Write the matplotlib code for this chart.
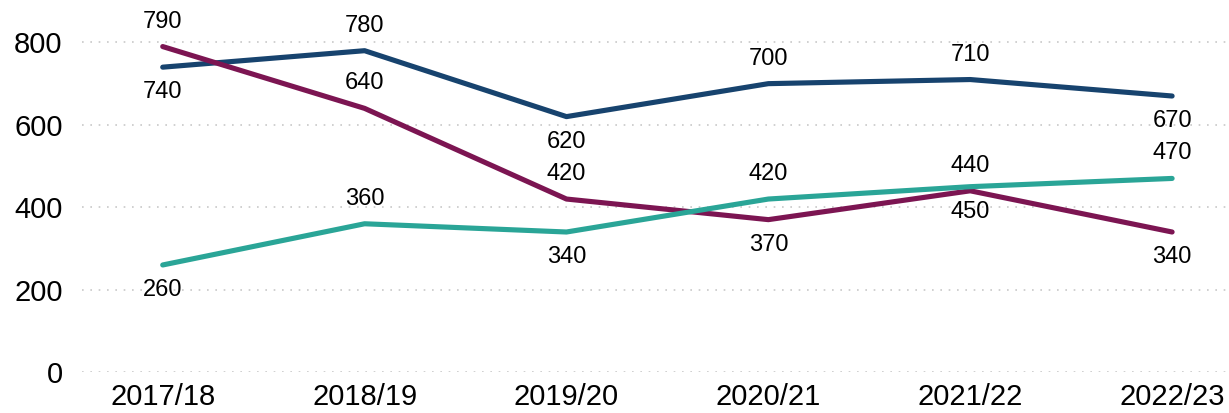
import matplotlib.pyplot as plt

# Data
years = ['2017/18', '2018/19', '2019/20', '2020/21', '2021/22', '2022/23']
navy_vals = [740, 780, 620, 700, 710, 670]
maroon_vals = [790, 640, 420, 370, 440, 340]
teal_vals = [260, 360, 340, 420, 450, 470]

# label text and side (+1 above, -1 below) as printed in the source
navy_labels = ['740', '780', '620', '700', '710', '670']
navy_side = [-1, 1, -1, 1, 1, -1]
maroon_labels = ['790', '640', '420', '370', '440', '340']
maroon_side = [1, 1, 1, -1, 1, -1]
teal_labels = ['260', '360', '340', '420', '450', '470']
teal_side = [-1, 1, -1, 1, -1, 1]

plt.rcParams['font.family'] = ['Liberation Sans', 'DejaVu Sans']

fig = plt.figure(figsize=(12.29, 4.13), dpi=100)
ax = fig.add_axes([0.0667, 0.099, 0.933, 0.898])

x = list(range(len(years)))
series = [
    (navy_vals, navy_labels, navy_side, '#17436e'),
    (maroon_vals, maroon_labels, maroon_side, '#7c1552'),
    (teal_vals, teal_labels, teal_side, '#2aa597'),
]

for vals, labels, side, color in series:
    ax.plot(x, vals, color=color, linewidth=3.7, solid_capstyle='round', zorder=3)
    for xi, v, lab, s in zip(x, vals, labels, side):
        ax.annotate(lab, (xi, v), xytext=(0, 18 * s), textcoords='offset points',
                    ha='center', va='center', fontsize=17, color='black')

ax.set_xlim(-0.4, 5.28)
ax.set_ylim(0, 900)
ax.set_yticks([0, 200, 400, 600, 800])
ax.set_xticks(x)
ax.set_xticklabels(years)

# Dotted horizontal gridlines
ax.grid(axis='y', linestyle=(0, (1, 4)), color='#c8c8c8', linewidth=1.2)
ax.set_axisbelow(True)

for sp in ax.spines.values():
    sp.set_visible(False)
ax.tick_params(axis='both', length=0, labelsize=21)
ax.tick_params(axis='y', pad=14)
ax.tick_params(axis='x', pad=8)

plt.savefig('out.png', dpi=100)
